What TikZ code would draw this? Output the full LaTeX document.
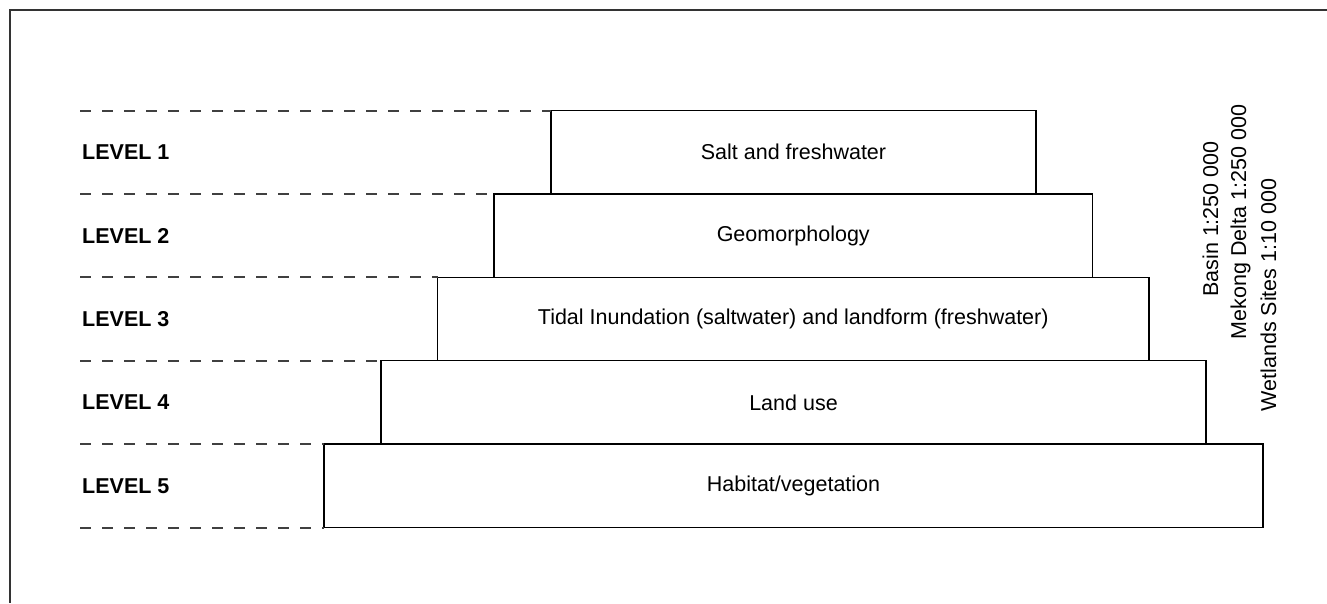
\documentclass[tikz,border=0pt]{standalone}
\usepackage{fontspec}
\setmainfont{Liberation Sans}
\begin{document}
\begin{tikzpicture}[x=1pt,y=-1pt,
  levelbox/.style={draw=black, line width=1.5pt, inner sep=0pt, outer sep=0pt, anchor=north west, minimum height=83.4pt, font=\fontsize{21.5}{26}\selectfont},
  levellabel/.style={anchor=west, inner sep=0pt, font=\fontsize{21.5}{26}\selectfont\bfseries},
  guide/.style={draw=black!75, line width=2pt, dash pattern=on 11pt off 11pt},
  scalelabel/.style={rotate=90, anchor=base, inner sep=0pt, font=\fontsize{21.5}{26}\selectfont},
  frameline/.style={draw=black!80, line width=2pt}]
\useasboundingbox (0,0) rectangle (1327,603);
% frame
\coordinate (f0) at (10,10);
\coordinate (f1) at (1327,10);
\coordinate (f2) at (10,603);
\draw[frameline] (f1) -- (f0) -- (f2);
% boxes
\node[levelbox, minimum width=485pt] (b1) at (551,110.5) {Salt and freshwater};
\node[levelbox, minimum width=598.5pt] (b2) at (494,193.9) {Geomorphology};
\node[levelbox, minimum width=711.5pt] (b3) at (437.5,277.3) {Tidal Inundation (saltwater) and landform (freshwater)};
\node[levelbox, minimum width=825pt] (b4) at (381,360.7) {Land use};
\node[levelbox, minimum width=939pt] (b5) at (324,444.1) {Habitat/vegetation};
% guide lines
\coordinate (g1) at (80,110.5);
\coordinate (g2) at (80,193.9);
\coordinate (g3) at (80,277.3);
\coordinate (g4) at (80,360.7);
\coordinate (g5) at (80,444.1);
\coordinate (g6) at (80,527.5);
\draw[guide] (g1) -- (b1.north west);
\draw[guide] (g2) -- (b2.north west);
\draw[guide] (g3) -- (b3.north west);
\draw[guide] (g4) -- (b4.north west);
\draw[guide] (g5) -- (b5.north west);
\draw[guide] (g6) -- (b5.south west);
% level labels
\node[levellabel] (l1) at (82,152.2) {LEVEL 1};
\node[levellabel] (l2) at (82,235.6) {LEVEL 2};
\node[levellabel] (l3) at (82,319.0) {LEVEL 3};
\node[levellabel] (l4) at (82,402.4) {LEVEL 4};
\node[levellabel] (l5) at (82,485.8) {LEVEL 5};
% scale labels
\node[scalelabel] (s1) at (1218,219) {Basin 1:250 000};
\node[scalelabel] (s2) at (1246,222) {Mekong Delta 1:250 000};
\node[scalelabel] (s3) at (1276,295) {Wetlands Sites 1:10 000};
\end{tikzpicture}
\end{document}
